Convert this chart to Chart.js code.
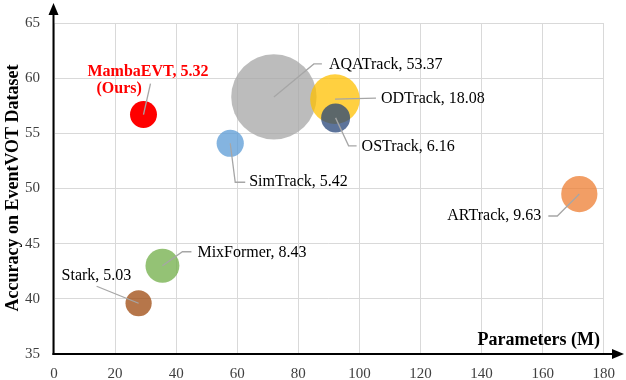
<!DOCTYPE html>
<html><head><meta charset="utf-8">
<script src="https://cdn.jsdelivr.net/npm/chart.js@4/dist/chart.umd.min.js"></script>
<style>html,body{margin:0;padding:0;background:#fff}canvas{display:block}</style>
</head><body>
<canvas id="c" width="626" height="380"></canvas>
<script>
// ---- data ----
const trackers   = ['Stark','MixFormer','MambaEVT','SimTrack','AQATrack','ODTrack','OSTrack','ARTrack'];
const paramsM    = [27.7, 35.5, 29.3, 57.7, 72.0, 92.0, 92.2, 172.0];
const accuracy   = [39.6, 43.0, 56.7, 54.1, 58.3, 58.1, 56.4, 49.5];
const bubbleSize = [5.03, 8.43, 5.32, 5.42, 53.37, 18.08, 6.16, 9.63];
const xTicks     = [0, 20, 40, 60, 80, 100, 120, 140, 160, 180];
const yTicks     = [35, 40, 45, 50, 55, 60, 65];
const xTitle = 'Parameters (M)';
const yTitle = 'Accuracy on EventVOT Dataset';
const oursNote = '(Ours)';

// ---- styles ----
const colors = {
  Stark: 'rgba(158,72,14,0.75)',
  MixFormer: 'rgba(112,173,71,0.75)',
  MambaEVT: 'rgba(255,0,0,1)',
  SimTrack: 'rgba(91,155,213,0.75)',
  AQATrack: 'rgba(165,165,165,0.75)',
  ODTrack: 'rgba(255,192,0,0.75)',
  OSTrack: 'rgba(38,68,120,0.75)',
  ARTrack: 'rgba(237,125,49,0.75)'
};
const SERIF = "'Liberation Serif','Times New Roman',serif";
const labelLayout = {
  Stark:     {tx:-77, ty:-27, align:'left',  path:[[0,0],[-42,-17]]},
  MixFormer: {tx:35,  ty:-13, align:'left',  path:[[0,0],[20,-14],[29,-14]]},
  MambaEVT:  {tx:-56, ty:-43, align:'left',  path:[[0,0],[7,-31]], bold:true, color:'#FF0000', note:{tx:-47, ty:-26}},
  SimTrack:  {tx:19,  ty:39,  align:'left',  path:[[0,0],[5,39],[15,39]]},
  AQATrack:  {tx:55,  ty:-32, align:'left',  path:[[0,0],[40,-33],[48,-33]]},
  ODTrack:   {tx:46,  ty:0,   align:'left',  path:[[0,0],[41,-1]]},
  OSTrack:   {tx:26,  ty:29,  align:'left',  path:[[0,0],[13,28],[21,28]]},
  ARTrack:   {tx:-38, ty:22,  align:'right', path:[[0,0],[-22,22],[-31,22]]}
};
const RADIUS_K = 5.84;

const points = trackers.map((t, i) => ({x: paramsM[i], y: accuracy[i]}));

const annotPlugin = {
  id: 'annot',
  afterDatasetsDraw(chart) {
    const ctx = chart.ctx;
    const meta = chart.getDatasetMeta(0);
    const area = chart.chartArea;
    ctx.save();
    // leader lines
    ctx.strokeStyle = '#A6A6A6';
    ctx.lineWidth = 1.3;
    trackers.forEach((t, i) => {
      const el = meta.data[i];
      const L = labelLayout[t];
      ctx.beginPath();
      L.path.forEach((p, k) => {
        const px = el.x + p[0], py = el.y + p[1];
        if (k === 0) ctx.moveTo(px, py); else ctx.lineTo(px, py);
      });
      ctx.stroke();
    });
    // labels
    ctx.textBaseline = 'middle';
    trackers.forEach((t, i) => {
      const el = meta.data[i];
      const L = labelLayout[t];
      ctx.font = (L.bold ? 'bold ' : '') + '16px ' + SERIF;
      ctx.fillStyle = L.color || '#000';
      ctx.textAlign = L.align;
      ctx.fillText(t + ', ' + bubbleSize[i].toFixed(2), el.x + L.tx, el.y + L.ty);
      if (L.note) {
        ctx.textAlign = 'left';
        ctx.fillText(oursNote, el.x + L.note.tx, el.y + L.note.ty);
      }
    });
    // axes with arrows
    ctx.strokeStyle = '#000';
    ctx.fillStyle = '#000';
    ctx.lineWidth = 2;
    const ax = area.left - 0.5, ay = area.bottom;
    ctx.beginPath(); ctx.moveTo(ax, ay + 1); ctx.lineTo(ax, 14); ctx.stroke();
    ctx.beginPath(); ctx.moveTo(ax, 3); ctx.lineTo(ax - 5, 15); ctx.lineTo(ax + 5, 15); ctx.closePath(); ctx.fill();
    ctx.beginPath(); ctx.moveTo(ax - 1, ay); ctx.lineTo(614, ay); ctx.stroke();
    ctx.beginPath(); ctx.moveTo(624, ay); ctx.lineTo(612, ay - 5); ctx.lineTo(612, ay + 5); ctx.closePath(); ctx.fill();
    // axis titles
    ctx.font = 'bold 18px ' + SERIF;
    ctx.textAlign = 'right';
    ctx.textBaseline = 'middle';
    ctx.fillText(xTitle, 600, 340);
    ctx.translate(13, 188);
    ctx.rotate(-Math.PI / 2);
    ctx.textAlign = 'center';
    ctx.fillText(yTitle, 0, 0);
    ctx.restore();
  }
};

new Chart(document.getElementById('c'), {
  type: 'bubble',
  data: {
    labels: trackers,
    datasets: [{
      data: points,
      backgroundColor: trackers.map(t => colors[t]),
      borderWidth: 0,
      radius: c => RADIUS_K * Math.sqrt(bubbleSize[c.dataIndex]),
      hoverRadius: 0
    }]
  },
  options: {
    responsive: false,
    animation: false,
    devicePixelRatio: 1,
    events: [],
    layout: {autoPadding: false, padding: {left: 0, right: 20, top: 20, bottom: 0}},
    plugins: {legend: {display: false}, tooltip: {enabled: false}},
    scales: {
      x: {
        type: 'linear', min: xTicks[0], max: xTicks[xTicks.length - 1],
        afterBuildTicks: s => { s.ticks = xTicks.map(v => ({value: v})); },
        afterFit: s => { s.height = 26; },
        grid: {color: '#D9D9D9', lineWidth: 1, drawTicks: false},
        border: {display: false},
        ticks: {padding: 11, color: '#404040', font: {family: SERIF, size: 15}, maxRotation: 0}
      },
      y: {
        type: 'linear', min: yTicks[0], max: yTicks[yTicks.length - 1],
        afterBuildTicks: s => { s.ticks = yTicks.map(v => ({value: v})); },
        afterFit: s => { s.width = 54; },
        grid: {color: '#D9D9D9', lineWidth: 1, drawTicks: false},
        border: {display: false},
        ticks: {padding: 14, color: '#404040', font: {family: SERIF, size: 15}}
      }
    }
  },
  plugins: [annotPlugin]
});
</script>
</body></html>
